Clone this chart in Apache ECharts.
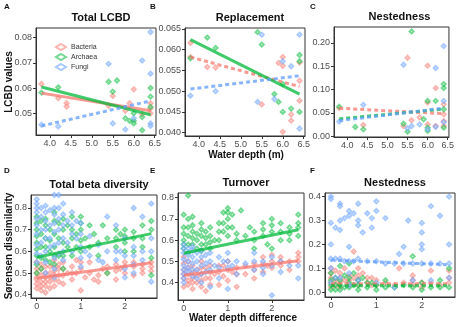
<!DOCTYPE html>
<html>
<head>
<meta charset="utf-8">
<script src="https://cdn.jsdelivr.net/npm/echarts@6/dist/echarts.min.js"></script>
<style>
  html, body { margin: 0; padding: 0; background: #fff; }
  #chart { width: 457px; height: 327px; }
</style>
</head>
<body>
<div id="chart"></div>
<script>
// taxa + colours
const taxa = ['Bacteria', 'Archaea', 'Fungi'];
const taxaColors = ['#F8766D', '#00BA38', '#619CFF'];

// ---- A: Total LCBD, [depth, value]
const aBacteria = [[3.8,0.0616],[4.2,0.0560],[4.4,0.0540],[4.4,0.0527],[5.4,0.0530],[5.5,0.0569],[5.8,0.0510],[5.9,0.0540],[6.0,0.0595],[6.2,0.0496],[6.4,0.0540],[6.4,0.0520],[6.4,0.0500]];
const aArchaea = [[3.8,0.0582],[4.2,0.0603],[5.4,0.0625],[5.5,0.0586],[5.6,0.0630],[5.8,0.0480],[5.9,0.0470],[6.0,0.0500],[6.0,0.0470],[6.0,0.0460],[6.2,0.0485],[6.2,0.0433],[6.4,0.0600],[6.4,0.0566],[6.4,0.0525]];
const aFungi = [[3.8,0.0455],[4.2,0.0448],[5.4,0.0696],[5.5,0.0460],[5.8,0.0436],[6.0,0.0480],[6.2,0.0709],[6.4,0.0822],[6.4,0.0657],[6.4,0.0460],[6.4,0.0450]];
const aFitX = [3.8, 6.4];
const aFit = [[0.0580,0.0510],[0.0604,0.0494],[0.0450,0.0549]];

// ---- B: Replacement
const bBacteria = [[3.8,0.0616],[3.8,0.0582],[4.2,0.0558],[4.4,0.0557],[5.5,0.0468],[5.9,0.0568],[6.0,0.0582],[6.0,0.0561],[6.0,0.0402],[6.2,0.0444],[6.2,0.0429],[6.4,0.0569],[6.4,0.0525],[6.4,0.0477]];
const bArchaea = [[3.8,0.0579],[4.2,0.0629],[4.4,0.0604],[5.4,0.0642],[5.5,0.0612],[5.8,0.0493],[5.9,0.0474],[6.0,0.0517],[6.0,0.0450],[6.2,0.0458],[6.4,0.0587],[6.4,0.0572],[6.4,0.0450]];
const bFungi = [[3.8,0.0489],[4.4,0.0500],[5.4,0.0474],[5.5,0.0636],[5.8,0.0481],[6.0,0.0572],[6.2,0.0560],[6.4,0.0636],[6.4,0.0410]];
const bFit = [[0.0582,0.0511],[0.0624,0.0493],[0.0505,0.0537]];

// ---- C: Nestedness (LCBD)
const cBacteria = [[3.8,0.060],[4.4,0.0237],[5.4,0.0216],[5.5,0.168],[5.6,0.034],[5.8,0.040],[6.0,0.151],[6.0,0.072],[6.0,0.025],[6.2,0.103],[6.2,0.0216],[6.4,0.068],[6.4,0.0468],[6.4,0.032],[6.4,0.0216]];
const cArchaea = [[3.8,0.063],[4.2,0.0194],[4.4,0.0144],[5.4,0.0266],[5.5,0.0094],[5.6,0.2245],[5.9,0.036],[6.0,0.0755],[6.0,0.018],[6.0,0.011],[6.2,0.0755],[6.4,0.1115],[6.4,0.103],[6.4,0.0575],[6.4,0.018]];
const cFungi = [[3.8,0.031],[4.4,0.067],[5.4,0.153],[5.5,0.0165],[5.6,0.0216],[5.8,0.025],[6.0,0.0144],[6.2,0.146],[6.2,0.020],[6.4,0.193],[6.4,0.0755],[6.4,0.030]];
const cFit = [[0.0597,0.048],[0.037,0.058],[0.033,0.060]];

// ---- D: Total beta diversity, [depth difference, value]
const dBacteria = [[0,0.55],[0,0.52],[0,0.50],[0,0.48],[0,0.47],[0,0.45],[0,0.43],[0.1,0.54],[0.1,0.52],[0.1,0.49],[0.1,0.46],[0.1,0.44],[0.1,0.42],[0.2,0.53],[0.2,0.50],[0.2,0.48],[0.2,0.46],[0.2,0.44],[0.2,0.41],[0.3,0.53],[0.3,0.50],[0.3,0.48],[0.3,0.46],[0.3,0.43],[0.4,0.56],[0.4,0.53],[0.4,0.51],[0.4,0.49],[0.4,0.47],[0.4,0.44],[0.5,0.54],[0.5,0.52],[0.5,0.49],[0.5,0.46],[0.6,0.55],[0.6,0.52],[0.6,0.49],[0.6,0.45],[0.7,0.50],[0.8,0.53],[0.8,0.50],[0.8,0.47],[0.9,0.56],[0.9,0.50],[1.0,0.55],[1.0,0.52],[1.0,0.42],[1.1,0.48],[1.2,0.55],[1.2,0.50],[1.3,0.47],[1.4,0.49],[1.4,0.46],[1.5,0.52],[1.6,0.53],[1.6,0.50],[1.8,0.54],[1.8,0.51],[1.8,0.47],[1.9,0.52],[2.0,0.55],[2.0,0.53],[2.0,0.50],[2.2,0.55],[2.2,0.53],[2.2,0.49],[2.4,0.54],[2.4,0.52],[2.4,0.50],[2.6,0.55],[2.6,0.53],[2.6,0.51]];
const dArchaea = [[0,0.76],[0,0.73],[0,0.70],[0,0.67],[0,0.64],[0,0.61],[0,0.58],[0,0.54],[0,0.50],[0.1,0.74],[0.1,0.68],[0.1,0.62],[0.1,0.57],[0.1,0.52],[0.2,0.75],[0.2,0.72],[0.2,0.66],[0.2,0.62],[0.2,0.56],[0.3,0.70],[0.3,0.65],[0.3,0.60],[0.3,0.55],[0.4,0.78],[0.4,0.74],[0.4,0.68],[0.4,0.62],[0.4,0.58],[0.4,0.54],[0.5,0.73],[0.5,0.66],[0.5,0.58],[0.6,0.75],[0.6,0.70],[0.6,0.64],[0.6,0.58],[0.6,0.52],[0.7,0.72],[0.7,0.62],[0.8,0.76],[0.8,0.70],[0.8,0.66],[0.8,0.58],[0.9,0.68],[0.9,0.62],[1.0,0.76],[1.0,0.73],[1.0,0.70],[1.0,0.65],[1.0,0.60],[1.1,0.66],[1.2,0.72],[1.2,0.62],[1.3,0.68],[1.4,0.64],[1.4,0.58],[1.5,0.72],[1.6,0.66],[1.6,0.50],[1.8,0.70],[1.8,0.66],[1.8,0.62],[1.9,0.68],[2.0,0.70],[2.0,0.67],[2.0,0.64],[2.0,0.60],[2.2,0.69],[2.2,0.66],[2.2,0.60],[2.4,0.72],[2.4,0.66],[2.4,0.62],[2.6,0.74],[2.6,0.70],[2.6,0.57],[2.6,0.49]];
const dFungi = [[0,0.84],[0,0.82],[0,0.80],[0,0.78],[0,0.75],[0,0.72],[0,0.68],[0,0.63],[0,0.59],[0,0.55],[0.1,0.80],[0.1,0.76],[0.1,0.70],[0.1,0.64],[0.1,0.58],[0.2,0.81],[0.2,0.78],[0.2,0.74],[0.2,0.70],[0.2,0.66],[0.2,0.60],[0.2,0.55],[0.2,0.50],[0.3,0.79],[0.3,0.72],[0.3,0.66],[0.3,0.62],[0.4,0.86],[0.4,0.80],[0.4,0.77],[0.4,0.73],[0.4,0.69],[0.4,0.63],[0.4,0.57],[0.4,0.52],[0.4,0.48],[0.5,0.86],[0.5,0.80],[0.5,0.75],[0.5,0.70],[0.5,0.64],[0.5,0.59],[0.6,0.82],[0.6,0.77],[0.6,0.72],[0.6,0.66],[0.6,0.60],[0.6,0.56],[0.7,0.74],[0.7,0.64],[0.8,0.78],[0.8,0.72],[0.8,0.68],[0.8,0.60],[0.9,0.74],[0.9,0.66],[1.0,0.73],[1.0,0.68],[1.0,0.62],[1.0,0.57],[1.0,0.53],[1.1,0.60],[1.2,0.67],[1.2,0.58],[1.4,0.63],[1.4,0.56],[1.5,0.55],[1.6,0.76],[1.6,0.60],[1.8,0.72],[1.8,0.60],[1.8,0.56],[1.9,0.60],[2.0,0.66],[2.0,0.58],[2.0,0.52],[2.0,0.48],[2.2,0.80],[2.2,0.62],[2.2,0.58],[2.2,0.54],[2.2,0.50],[2.4,0.76],[2.4,0.60],[2.4,0.56],[2.6,0.82],[2.6,0.66],[2.6,0.60],[2.6,0.46]];
const bottomFitX = [0, 2.6];
const dFit = [[0.476,0.548],[0.5725,0.682],null];

// ---- E: Turnover
const eBacteria = [[0,0.52],[0,0.49],[0,0.46],[0,0.44],[0,0.42],[0,0.38],[0.1,0.50],[0.1,0.47],[0.1,0.44],[0.1,0.41],[0.1,0.39],[0.2,0.48],[0.2,0.45],[0.2,0.42],[0.2,0.40],[0.2,0.37],[0.3,0.46],[0.3,0.43],[0.3,0.40],[0.4,0.50],[0.4,0.47],[0.4,0.44],[0.4,0.41],[0.4,0.38],[0.5,0.47],[0.5,0.42],[0.5,0.36],[0.6,0.48],[0.6,0.45],[0.6,0.42],[0.6,0.39],[0.7,0.44],[0.8,0.48],[0.8,0.45],[0.8,0.39],[0.9,0.48],[0.9,0.43],[1.0,0.50],[1.0,0.46],[1.0,0.41],[1.1,0.45],[1.2,0.47],[1.2,0.44],[1.2,0.38],[1.4,0.48],[1.4,0.44],[1.6,0.49],[1.6,0.46],[1.6,0.42],[1.8,0.52],[1.8,0.49],[1.8,0.45],[1.9,0.48],[2.0,0.53],[2.0,0.50],[2.0,0.47],[2.2,0.52],[2.2,0.50],[2.2,0.48],[2.4,0.50],[2.4,0.46],[2.6,0.54],[2.6,0.52],[2.6,0.50]];
const eArchaea = [[0,0.72],[0,0.66],[0,0.63],[0,0.60],[0,0.58],[0,0.56],[0.1,0.81],[0.1,0.70],[0.1,0.66],[0.1,0.62],[0.1,0.58],[0.1,0.54],[0.2,0.71],[0.2,0.67],[0.2,0.64],[0.2,0.61],[0.2,0.58],[0.3,0.63],[0.3,0.60],[0.3,0.56],[0.4,0.68],[0.4,0.65],[0.4,0.62],[0.4,0.58],[0.4,0.55],[0.5,0.64],[0.5,0.61],[0.5,0.58],[0.6,0.66],[0.6,0.62],[0.6,0.59],[0.6,0.56],[0.7,0.60],[0.8,0.68],[0.8,0.64],[0.8,0.60],[0.9,0.73],[0.9,0.68],[0.9,0.64],[1.0,0.75],[1.0,0.73],[1.0,0.70],[1.0,0.66],[1.0,0.62],[1.1,0.72],[1.1,0.66],[1.3,0.74],[1.2,0.63],[1.2,0.60],[1.4,0.62],[1.5,0.66],[1.6,0.64],[1.6,0.60],[1.6,0.56],[1.8,0.68],[1.8,0.65],[1.8,0.62],[1.9,0.58],[2.0,0.70],[2.0,0.67],[2.0,0.64],[2.0,0.56],[2.2,0.68],[2.2,0.64],[2.2,0.60],[2.4,0.66],[2.4,0.63],[2.4,0.60],[2.6,0.72],[2.6,0.68],[2.6,0.66],[2.6,0.62]];
const eFungi = [[0,0.58],[0,0.56],[0,0.54],[0,0.51],[0,0.48],[0,0.46],[0,0.44],[0,0.42],[0,0.40],[0.1,0.56],[0.1,0.53],[0.1,0.50],[0.1,0.47],[0.1,0.45],[0.2,0.57],[0.2,0.55],[0.2,0.52],[0.2,0.49],[0.2,0.46],[0.2,0.43],[0.3,0.54],[0.3,0.50],[0.3,0.46],[0.3,0.42],[0.4,0.55],[0.4,0.52],[0.4,0.48],[0.4,0.44],[0.4,0.40],[0.5,0.53],[0.5,0.49],[0.5,0.45],[0.6,0.54],[0.6,0.50],[0.6,0.46],[0.6,0.38],[0.7,0.48],[0.8,0.52],[0.8,0.47],[0.8,0.42],[0.9,0.50],[1.0,0.54],[1.0,0.50],[1.0,0.47],[1.0,0.37],[1.1,0.48],[1.2,0.50],[1.2,0.44],[1.4,0.49],[1.6,0.54],[1.6,0.50],[1.6,0.46],[1.8,0.50],[1.8,0.47],[1.8,0.44],[2.0,0.52],[2.0,0.48],[2.0,0.34],[2.2,0.50],[2.2,0.45],[2.4,0.48],[2.6,0.48],[2.6,0.42]];
const eFit = [[0.435,0.503],[0.538,0.649],null];

// ---- F: Nestedness (pairwise)
const fBacteria = [[0,0.10],[0,0.08],[0,0.06],[0,0.04],[0,0.02],[0.1,0.09],[0.1,0.05],[0.1,0.03],[0.2,0.08],[0.2,0.06],[0.2,0.04],[0.2,0.02],[0.3,0.10],[0.3,0.05],[0.4,0.07],[0.4,0.05],[0.4,0.03],[0.5,0.17],[0.5,0.06],[0.6,0.10],[0.6,0.07],[0.6,0.05],[0.6,0.03],[0.7,0.08],[0.8,0.06],[0.8,0.04],[0.9,0.06],[0.9,0.03],[1.0,0.05],[1.0,0.03],[1.2,0.04],[1.4,0.03],[1.5,0.10],[1.6,0.04],[1.8,0.07],[1.8,0.05],[1.8,0.03],[2.0,0.04],[2.0,0.02],[2.2,0.09],[2.2,0.04],[2.4,0.03],[2.6,0.09],[2.6,0.06],[2.6,0.04]];
const fArchaea = [[0,0.08],[0,0.05],[0,0.03],[0,0.01],[0.1,0.06],[0.1,0.03],[0.1,0.01],[0.2,0.11],[0.2,0.05],[0.2,0.03],[0.2,0.01],[0.3,0.07],[0.3,0.02],[0.4,0.12],[0.4,0.06],[0.4,0.04],[0.4,0.02],[0.5,0.08],[0.5,0.03],[0.6,0.05],[0.6,0.03],[0.6,0.01],[0.7,0.06],[0.8,0.04],[0.8,0.02],[0.9,0.04],[1.0,0.03],[1.0,0.01],[1.2,0.05],[1.2,0.02],[1.4,0.02],[1.6,0.03],[1.8,0.15],[1.8,0.02],[2.0,0.04],[2.0,0.01],[2.2,0.02],[2.4,0.05],[2.4,0.02],[2.6,0.10],[2.6,0.02]];
const fFungi = [[0,0.40],[0,0.39],[0,0.29],[0,0.20],[0,0.14],[0,0.10],[0,0.04],[0.1,0.27],[0.1,0.14],[0.1,0.06],[0.2,0.37],[0.2,0.36],[0.2,0.30],[0.2,0.26],[0.2,0.14],[0.2,0.06],[0.3,0.31],[0.3,0.13],[0.4,0.34],[0.4,0.32],[0.4,0.19],[0.4,0.13],[0.4,0.08],[0.4,0.03],[0.5,0.33],[0.5,0.13],[0.6,0.37],[0.6,0.30],[0.6,0.28],[0.6,0.14],[0.6,0.05],[0.7,0.25],[0.8,0.33],[0.8,0.13],[0.9,0.31],[0.9,0.27],[1.0,0.38],[1.0,0.34],[1.0,0.13],[1.0,0.04],[1.2,0.31],[1.2,0.12],[1.4,0.12],[1.4,0.02],[1.5,0.16],[1.6,0.19],[1.6,0.12],[1.7,0.30],[1.8,0.12],[1.8,0.05],[2.0,0.29],[2.0,0.25],[2.0,0.20],[2.0,0.18],[2.0,0.12],[2.2,0.36],[2.2,0.12],[2.2,0.05],[2.4,0.32],[2.4,0.12],[2.6,0.40],[2.6,0.20],[2.6,0.12],[2.6,0.06]];
const fFit = [[0.035,0.035],[0.027,0.027],[0.134,0.115]];

// tick labels
const topXTicks = [4.0, 4.5, 5.0, 5.5, 6.0, 6.5];
const bottomXTicks = [0, 1, 2];
const aYTicks = [0.05, 0.06, 0.07, 0.08];
const bYTicks = [0.040, 0.045, 0.050, 0.055, 0.060, 0.065];
const cYTicks = [0.00, 0.05, 0.10, 0.15, 0.20];
const dYTicks = [0.4, 0.5, 0.6, 0.7, 0.8];
const eYTicks = [0.4, 0.5, 0.6, 0.7, 0.8];
const fYTicks = [0.0, 0.1, 0.2, 0.3, 0.4];

// panels: grid box, ranges, data, fit, which fits are solid
const panels = [
  { letter:'A', title:'Total LCBD', grid:{left:36, top:28, width:120, height:107}, x:[3.67,6.53], y:[0.0414,0.0838], xt:topXTicks, yt:aYTicks, yd:2, pts:[aBacteria,aArchaea,aFungi], fitX:aFitX, fit:aFit, solid:[true,true,false] },
  { letter:'B', title:'Replacement', grid:{left:185, top:28, width:120, height:108}, x:[3.67,6.53], y:[0.0392,0.0652], xt:topXTicks, yt:bYTicks, yd:3, pts:[bBacteria,bArchaea,bFungi], fitX:aFitX, fit:bFit, solid:[false,true,false] },
  { letter:'C', title:'Nestedness', grid:{left:334, top:27, width:121, height:110}, x:[3.67,6.53], y:[-0.002,0.234], xt:topXTicks, yt:cYTicks, yd:2, pts:[cBacteria,cArchaea,cFungi], fitX:aFitX, fit:cFit, solid:[false,false,false] },
  { letter:'D', title:'Total beta diversity', grid:{left:31, top:195, width:126, height:103}, x:[-0.13,2.73], y:[0.385,0.86], xt:bottomXTicks, yt:dYTicks, yd:1, pts:[dBacteria,dArchaea,dFungi], fitX:bottomFitX, fit:dFit, solid:[true,true,false] },
  { letter:'E', title:'Turnover', grid:{left:178, top:193, width:126, height:107}, x:[-0.13,2.73], y:[0.318,0.822], xt:bottomXTicks, yt:eYTicks, yd:1, pts:[eBacteria,eArchaea,eFungi], fitX:bottomFitX, fit:eFit, solid:[true,true,false] },
  { letter:'F', title:'Nestedness', grid:{left:325, top:193, width:130, height:104}, x:[-0.13,2.73], y:[-0.02,0.415], xt:bottomXTicks, yt:fYTicks, yd:1, pts:[fBacteria,fArchaea,fFungi], fitX:bottomFitX, fit:fFit, solid:[false,false,false] }
];

const grids = [], xAxes = [], yAxes = [], series = [], titles = [];
panels.forEach((p, i) => {
  grids.push(Object.assign({ show:true, borderColor:'#333', borderWidth:1, backgroundColor:'#fff', containLabel:false }, p.grid));
  const axisCommon = {
    gridIndex: i, type:'value', splitLine:{show:false},
    axisLine:{show:true, onZero:false, lineStyle:{color:'#333', width:1}},
  };
  xAxes.push(Object.assign({}, axisCommon, {
    min:p.x[0], max:p.x[1],
    axisTick:{show:true, length:3, lineStyle:{color:'#333'}, customValues:p.xt},
    axisLabel:{customValues:p.xt, fontSize:9, color:'#4d4d4d', margin:4,
      formatter: v => (i < 3 ? v.toFixed(1) : String(Math.round(v)))}
  }));
  yAxes.push(Object.assign({}, axisCommon, {
    min:p.y[0], max:p.y[1],
    axisTick:{show:true, length:3, lineStyle:{color:'#333'}, customValues:p.yt},
    axisLabel:{customValues:p.yt, fontSize:9, color:'#4d4d4d', margin:4,
      formatter: v => v.toFixed(p.yd)}
  }));
  titles.push({ text:p.title, left:p.grid.left + p.grid.width / 2, top:p.grid.top - 21, textAlign:'center',
    textStyle:{fontSize:11, fontWeight:'bold', color:'#111', fontFamily:'Liberation Sans'} });

  taxa.forEach((name, k) => {
    series.push({
      name, type:'scatter', xAxisIndex:i, yAxisIndex:i,
      symbol:'emptyDiamond', symbolSize:4,
      itemStyle:{color:taxaColors[k], opacity:0.55, borderWidth:0.6},
      data:p.pts[k], z:2
    });
  });
  taxa.forEach((name, k) => {
    if (!p.fit[k]) return;
    series.push({
      name, type:'line', xAxisIndex:i, yAxisIndex:i, showSymbol:false, silent:true,
      lineStyle:{color:taxaColors[k], width:3, opacity:0.75, type:p.solid[k] ? 'solid' : [4, 3]},
      data:[[p.fitX[0], p.fit[k][0]], [p.fitX[1], p.fit[k][1]]], z:3
    });
  });
});

// panel letters
const letterPos = [[4,3],[150,3],[310,3],[4,167],[150,167],[310,167]];
const graphics = panels.map((p, i) => ({
  type:'text', left:letterPos[i][0], top:letterPos[i][1],
  style:{text:p.letter, fontSize:8, fontWeight:'bold', fill:'#111', fontFamily:'Liberation Sans'}
}));
graphics.push(
  { type:'text', x:4, y:82, rotation:Math.PI / 2, style:{text:'LCBD values', fontSize:10, fontWeight:'bold', fill:'#111', align:'center', verticalAlign:'top', fontFamily:'Liberation Sans'} },
  { type:'text', x:4, y:246, rotation:Math.PI / 2, style:{text:'Sørensen dissimilarity', fontSize:10, fontWeight:'bold', fill:'#111', align:'center', verticalAlign:'top', fontFamily:'Liberation Sans'} },
  { type:'text', x:246, y:150, style:{text:'Water depth (m)', fontSize:10, fontWeight:'bold', fill:'#111', align:'center', fontFamily:'Liberation Sans'} },
  { type:'text', x:243, y:313, style:{text:'Water depth difference', fontSize:10, fontWeight:'bold', fill:'#111', align:'center', fontFamily:'Liberation Sans'} }
);

const chart = echarts.init(document.getElementById('chart'), null, { renderer:'canvas' });
chart.setOption({
  animation:false,
  backgroundColor:'#fff',
  color:taxaColors,
  title:titles,
  legend:{
    data:taxa, orient:'vertical', left:50, top:38, itemGap:2, itemWidth:10, itemHeight:6,
    icon:'emptyDiamond', textStyle:{fontSize:7, color:'#333'}, selectedMode:false
  },
  grid:grids, xAxis:xAxes, yAxis:yAxes, series, graphic:graphics
});
</script>
</body>
</html>
